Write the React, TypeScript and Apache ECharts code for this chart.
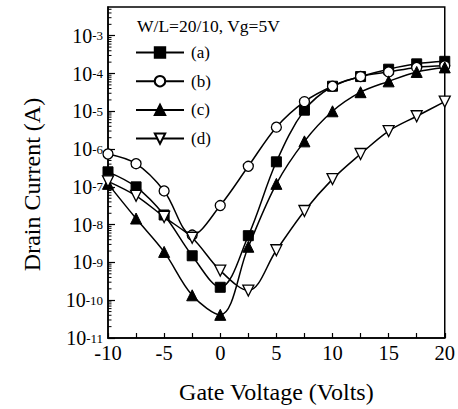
import React, { useEffect, useRef } from "react";
import * as echarts from "echarts";

// Gate voltage (V)
const gateVoltage = [-10, -7.5, -5, -2.5, 0, 2.5, 5, 7.5, 10, 12.5, 15, 17.5, 20];
// Drain current (A)
const seriesA = [2.5e-7, 1.0e-7, 1.8e-8, 1.5e-9, 2.2e-10, 5.1e-9, 4.6e-7, 1.07e-5, 4.6e-5, 8.3e-5, 1.3e-4, 1.8e-4, 2.1e-4];
const seriesB = [7.4e-7, 4.1e-7, 7.8e-8, 5.3e-9, 3.2e-8, 3.5e-7, 3.8e-6, 1.8e-5, 4.6e-5, 8.3e-5, 1.1e-4, 1.45e-4, 1.6e-4];
const seriesC = [1.2e-7, 1.45e-8, 1.9e-9, 1.35e-10, 4.1e-11, 2.6e-9, 1.2e-7, 1.6e-6, 1.0e-5, 3.2e-5, 6.2e-5, 1.1e-4, 1.45e-4];
const seriesD = [1.4e-7, 5.8e-8, 1.6e-8, 4.5e-9, 6.1e-10, 1.8e-10, 2.1e-9, 2.3e-8, 1.6e-7, 7.4e-7, 3.0e-6, 7.4e-6, 1.8e-5];
const seriesNames = ["(a)", "(b)", "(c)", "(d)"];
const legendTitle = "W/L=20/10, Vg=5V";
const xTitle = "Gate Voltage (Volts)";
const yTitle = "Drain Current (A)";
const yMinExp = -11;
const yMaxLog = -2.24;

const FONT = '"Liberation Serif", "Times New Roman", serif';

export default function App() {
  const ref = useRef<HTMLDivElement>(null);
  useEffect(() => {
    if (!ref.current) return;
    const chart = echarts.init(ref.current, undefined, { renderer: "svg" });
    const toPts = (arr: number[]) => arr.map((v, i) => [gateVoltage[i], Math.log10(v)]);

    // log minor tick positions
    const minorTicks: number[][] = [];
    for (let n = yMinExp; n <= Math.ceil(yMaxLog); n++) {
      for (let k = 2; k <= 9; k++) {
        const lv = n + Math.log10(k);
        if (lv < yMaxLog) minorTicks.push([-10, lv]);
      }
    }

    const base = {
      type: "line",
      smooth: 0.35,
      symbolSize: 10,
      lineStyle: { color: "#000", width: 1.5 },
      z: 3,
    };
    const filled = { color: "#000", borderColor: "#000", borderWidth: 1 };
    const open = { color: "#fff", borderColor: "#000", borderWidth: 1.3 };

    chart.setOption({
      animation: false,
      title: {
        text: legendTitle,
        left: 137,
        top: 17,
        padding: 0,
        textStyle: { fontFamily: FONT, fontSize: 17.5, fontWeight: "normal", color: "#000" },
      },
      legend: {
        data: seriesNames,
        orient: "vertical",
        left: 135,
        top: 44,
        itemWidth: 48,
        itemHeight: 13,
        itemGap: 11.7,
        padding: 0,
        textStyle: { fontFamily: FONT, fontSize: 17, color: "#000", padding: [0, 0, 0, 2] },
      },
      grid: {
        left: 108,
        right: 13,
        top: 7,
        bottom: 69,
        show: true,
        borderColor: "#000",
        borderWidth: 1.5,
      },
      xAxis: {
        type: "value",
        min: -10,
        max: 20,
        interval: 5,
        name: xTitle,
        nameLocation: "middle",
        nameGap: 42,
        nameTextStyle: { fontFamily: FONT, fontSize: 24, color: "#000" },
        axisLine: { show: true, onZero: false, lineStyle: { color: "#000", width: 1.5 } },
        axisTick: { show: true, inside: true, length: 5, lineStyle: { color: "#000", width: 1.2 } },
        minorTick: { show: true, splitNumber: 2, length: 5, lineStyle: { color: "#000", width: 1.2 } },
        splitLine: { show: false },
        axisLabel: { fontFamily: FONT, fontSize: 20.5, lineHeight: 16, color: "#000", margin: 7 },
      },
      yAxis: {
        type: "value",
        min: yMinExp,
        max: yMaxLog,
        interval: 1,
        name: yTitle,
        nameLocation: "middle",
        nameRotate: 90,
        nameGap: 64,
        nameTextStyle: { fontFamily: FONT, fontSize: 24, color: "#000", padding: [0, 24, 0, 0] },
        axisLine: { show: true, onZero: false, lineStyle: { color: "#000", width: 1.5 } },
        axisTick: { show: true, inside: true, length: 7, lineStyle: { color: "#000", width: 1.2 } },
        splitLine: { show: false },
        axisLabel: {
          margin: 5,
          showMaxLabel: false,
          formatter: (v: number) => {
            const r = Math.round(v);
            return Math.abs(v - r) < 1e-6 ? `{b|10}{s|${r}}` : "";
          },
          rich: {
            b: { fontFamily: FONT, fontSize: 20, lineHeight: 12, color: "#000" },
            s: { fontFamily: FONT, fontSize: 13, lineHeight: 12, color: "#000" },
          },
        },
      },
      series: [
        {
          type: "custom",
          silent: true,
          z: 1,
          clip: false,
          data: minorTicks,
          renderItem: (params: any, api: any) => {
            const p = api.coord([api.value(0), api.value(1)]);
            return {
              type: "line",
              shape: { x1: p[0], y1: p[1], x2: p[0] + 3.5, y2: p[1] },
              style: { stroke: "#000", lineWidth: 1 },
            };
          },
        },
        { ...base, name: seriesNames[0], symbol: "rect", itemStyle: filled, data: toPts(seriesA) },
        { ...base, name: seriesNames[1], symbol: "circle", itemStyle: open, data: toPts(seriesB) },
        { ...base, name: seriesNames[2], symbol: "triangle", symbolSize: 11, itemStyle: filled, data: toPts(seriesC) },
        {
          ...base,
          name: seriesNames[3],
          symbol: "path://M0,0L10,0L5,9Z",
          symbolSize: 11,
          itemStyle: open,
          data: toPts(seriesD),
        },
      ],
    });
    return () => chart.dispose();
  }, []);
  return (
    <div
      ref={ref}
      style={{ position: "absolute", left: 0, top: 0, width: 458, height: 409, background: "#fff" }}
    />
  );
}
